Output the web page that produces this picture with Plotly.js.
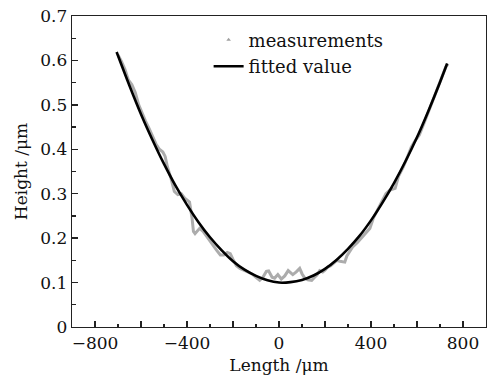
<!DOCTYPE html>
<html>
<head>
<meta charset="utf-8">
<script src="https://cdn.plot.ly/plotly-3.0.1.min.js"></script>
<style>html,body{margin:0;padding:0;background:#fff;}#chart{width:499px;height:377px;}</style>
</head>
<body>
<div id="chart"></div>
<script>
const measX = [-700,-685,-670,-655,-640,-625,-610,-595,-580,-565,-550,-535,-520,-505,-495,-485,-470,-455,-440,-425,-410,-389,-378,-372,-365,-345,-330,-310,-293,-280,-270,-255,-240,-225,-212,-200,-185,-170,-150,-135,-119,-100,-84,-70,-55,-45,-30,-19,-5,10,25,40,50,60,75,90,100,112,125,142,155,165,177,190,200,212,225,240,251,265,286,295,305,320,340,364,380,395,410,430,452,465,482,495,505,520,540,560,575,590,610,630,650,670,690,710,725,735];
const measY = [0.612,0.598,0.580,0.556,0.546,0.528,0.500,0.480,0.463,0.447,0.430,0.412,0.400,0.394,0.384,0.360,0.335,0.305,0.298,0.300,0.290,0.281,0.245,0.215,0.210,0.222,0.215,0.200,0.190,0.178,0.172,0.162,0.162,0.168,0.165,0.152,0.138,0.132,0.127,0.123,0.120,0.112,0.105,0.112,0.125,0.126,0.112,0.110,0.118,0.108,0.115,0.127,0.122,0.118,0.124,0.132,0.120,0.110,0.106,0.105,0.112,0.117,0.127,0.124,0.128,0.135,0.138,0.145,0.150,0.148,0.146,0.160,0.168,0.180,0.190,0.205,0.215,0.222,0.245,0.265,0.285,0.300,0.308,0.310,0.312,0.340,0.360,0.385,0.405,0.418,0.432,0.458,0.485,0.515,0.540,0.565,0.585,0.592];
// Fitted curve
const fitX = [-706,-650,-600,-550,-500,-450,-400,-350,-300,-250,-200,-150,-100,-50,0,50,100,150,200,250,300,350,400,450,500,550,600,650,700,731];
const fitY = [0.619,0.543,0.479,0.421,0.367,0.318,0.275,0.236,0.202,0.173,0.148,0.129,0.115,0.105,0.100,0.101,0.106,0.116,0.131,0.151,0.176,0.205,0.240,0.280,0.324,0.373,0.427,0.487,0.551,0.593];
const xTickVals = [-800,-600,-400,-200,0,200,400,600,800];
const xTickText = ['\u2212800','','\u2212400','','0','','400','','800'];
const yTickVals = [0,0.1,0.2,0.3,0.4,0.5,0.6,0.7];
const yTickText = ['0','0.1','0.2','0.3','0.4','0.5','0.6','0.7'];
const names = ['measurements','fitted value'];

const FONT = 'DejaVu Serif, Liberation Serif, serif';
const traces = [
  {x: measX, y: measY, mode: 'lines', line: {color: '#acacac', width: 3}, showlegend: false, hoverinfo: 'skip'},
  {x: [null], y: [null], mode: 'markers', name: names[0], marker: {symbol: 'triangle-up', size: 4, color: '#a0a0a0'}},
  {x: fitX, y: fitY, mode: 'lines', name: names[1], line: {color: '#000', width: 2.6, shape: 'spline'}}
];
const axisCommon = {
  showgrid: false, zeroline: false, showline: true, linecolor: '#222', linewidth: 1.3,
  mirror: true, ticks: 'inside', ticklen: 6, tickwidth: 1.3, tickcolor: '#222',
  tickfont: {family: FONT, size: 17, color: '#111'}
};
const layout = {
  width: 499, height: 377,
  margin: {l: 72, r: 13, t: 16, b: 50},
  paper_bgcolor: '#fff', plot_bgcolor: '#fff',
  font: {family: FONT, size: 17, color: '#111'},
  xaxis: Object.assign({}, axisCommon, {
    range: [-900, 900], tickmode: 'array', tickvals: xTickVals, ticktext: xTickText,
    minor: {dtick: 100, tick0: 0, ticks: 'inside', ticklen: 3.5, tickwidth: 1.2, tickcolor: '#222'},
    title: {text: 'Length /\u03bcm', font: {family: FONT, size: 17, color: '#111'}, standoff: 7}
  }),
  yaxis: Object.assign({}, axisCommon, {
    range: [0, 0.7], tickmode: 'array', tickvals: yTickVals, ticktext: yTickText,
    minor: {dtick: 0.05, tick0: 0, ticks: 'inside', ticklen: 3.5, tickwidth: 1.2, tickcolor: '#222'},
    title: {text: 'Height /\u03bcm', font: {family: FONT, size: 17, color: '#111'}, standoff: 8}
  }),
  legend: {x: 0.33, y: 0.982, xanchor: 'left', yanchor: 'top', bgcolor: 'rgba(0,0,0,0)',
    font: {family: FONT, size: 18, color: '#111'}, tracegroupgap: 0}
};
Plotly.newPlot('chart', traces, layout, {displayModeBar: false, staticPlot: true});
</script>
</body>
</html>
